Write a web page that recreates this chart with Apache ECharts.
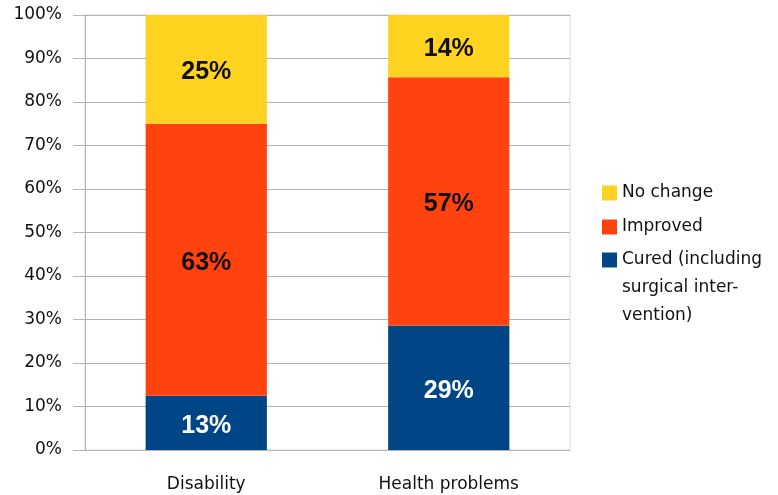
<!DOCTYPE html>
<html>
<head>
<meta charset="utf-8">
<script src="https://cdn.jsdelivr.net/npm/echarts@6/dist/echarts.min.js"></script>
<style>
  html, body { margin: 0; padding: 0; background: #fff; }
  #chart { width: 778px; height: 495px; }
</style>
</head>
<body>
<div id="chart"></div>
<script>
// data (shares of each group, sum to 100)
const categories = ['Disability', 'Health problems'];
const cured = [12.5, 28.6];
const improved = [62.5, 57.1];
const noChange = [25, 14.3];
const yTicks = [0, 100, 10]; // min, max, step

const seriesNames = ['Cured (including surgical intervention)', 'Improved', 'No change'];
const colors = ['#004586', '#ff420e', '#ffd320'];
const textFont = 'DejaVu Sans';

const chart = echarts.init(document.getElementById('chart'));

function barLabel(color) {
    return {
        show: true,
        position: 'inside',
        offset: [0, 3],
        color: color,
        fontFamily: 'Liberation Sans',
        fontWeight: 'bold',
        fontSize: 25,
        formatter: p => Math.round(p.value) + '%'
    };
}

const legendText = {
    fontFamily: textFont,
    fontSize: 17,
    color: '#111',
    lineHeight: 28
};

const option = {
    animation: false,
    color: colors,
    grid: {
        left: 85,
        right: 208,
        top: 15,
        bottom: 45,
        show: true,
        borderColor: '#d9d9d9',
        borderWidth: 1
    },
    legend: [
        {
            orient: 'vertical',
            left: 597,
            top: 174,
            itemWidth: 15,
            itemHeight: 15,
            itemGap: 6,
            icon: 'rect',
            data: [seriesNames[2], seriesNames[1]],
            textStyle: legendText
        },
        {
            // wrapped name: two blank lines in front keep the icon level with the first line
            orient: 'vertical',
            left: 597,
            top: 185,
            itemWidth: 15,
            itemHeight: 15,
            icon: 'rect',
            data: [seriesNames[0]],
            formatter: () => '\n\nCured (including\nsurgical inter-\nvention)',
            textStyle: legendText
        }
    ],
    xAxis: {
        type: 'category',
        data: categories,
        axisLine: { lineStyle: { color: '#b3b3b3' } },
        axisTick: { alignWithLabel: true, length: 10, lineStyle: { color: '#b3b3b3' } },
        axisLabel: {
            margin: 26,
            fontFamily: textFont,
            fontSize: 17,
            color: '#111'
        }
    },
    yAxis: {
        type: 'value',
        min: yTicks[0],
        max: yTicks[1],
        interval: yTicks[2],
        axisLine: { show: true, lineStyle: { color: '#b3b3b3' } },
        axisTick: { show: true, inside: false, length: 12, lineStyle: { color: '#b3b3b3' } },
        splitLine: { lineStyle: { color: '#b3b3b3' } },
        axisLabel: {
            margin: 23,
            fontFamily: textFont,
            fontSize: 17,
            color: '#111',
            formatter: '{value}%'
        }
    },
    series: [
        {
            name: seriesNames[0],
            type: 'bar',
            stack: 'total',
            barWidth: '50%',
            data: cured,
            label: barLabel('#fff')
        },
        {
            name: seriesNames[1],
            type: 'bar',
            stack: 'total',
            data: improved,
            label: barLabel('#111')
        },
        {
            name: seriesNames[2],
            type: 'bar',
            stack: 'total',
            data: noChange,
            label: barLabel('#111')
        }
    ]
};

chart.setOption(option);
</script>
</body>
</html>
